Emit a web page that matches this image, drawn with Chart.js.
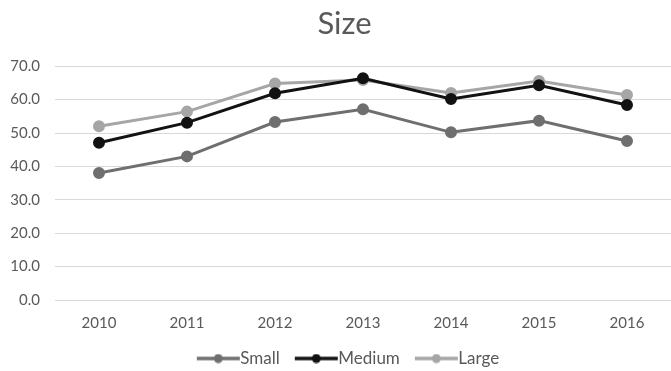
<!DOCTYPE html>
<html>
<head>
<meta charset="utf-8">
<script src="https://cdn.jsdelivr.net/npm/chart.js@4"></script>
<style>
  html, body { margin: 0; padding: 0; background: #fff; }
  #wrap { width: 671px; height: 371px; }
</style>
</head>
<body>
<div id="wrap"><canvas id="myChart" width="671" height="371"></canvas></div>
<script>
// data
const years = ["2010", "2011", "2012", "2013", "2014", "2015", "2016"];
const small = [38.0, 43.0, 53.3, 57.1, 50.2, 53.7, 47.6];
const medium = [47.1, 53.1, 61.9, 66.4, 60.2, 64.3, 58.4];
const large = [52.0, 56.4, 64.8, 65.9, 62.0, 65.6, 61.4];
const yTicks = [0, 10, 20, 30, 40, 50, 60, 70];

const textColor = "#595959";
const font = "Lato, 'Open Sans', sans-serif";

// legend marker: a short line with a dot in the middle
function legendMarker(color) {
  let c = document.createElement("canvas");
  c.width = 52; c.height = 10;
  let g = c.getContext("2d");
  g.strokeStyle = color;
  g.lineWidth = 3.5;
  g.beginPath(); g.moveTo(8, 5); g.lineTo(51, 5); g.stroke();
  g.fillStyle = color;
  g.beginPath(); g.arc(29.5, 5, 4.5, 0, Math.PI * 2); g.fill();
  return c;
}

function series(label, data, color) {
  return {
    label: label,
    data: data,
    borderColor: color,
    backgroundColor: color,
    borderWidth: 3,
    pointRadius: 4.5,
    pointHoverRadius: 4.5,
    pointBackgroundColor: color,
    pointBorderColor: color,
    tension: 0,
    fill: false
  };
}

// title and legend sit a little right of the canvas centre in the original
const nudge = {
  id: "nudge",
  beforeDraw: function(chart) {
    chart.titleBlock.left += 6; chart.titleBlock.right += 6;
    chart.legend.left += 10; chart.legend.right += 10;
  },
  afterDraw: function(chart) {
    chart.titleBlock.left -= 6; chart.titleBlock.right -= 6;
    chart.legend.left -= 10; chart.legend.right -= 10;
  }
};

let ctx = document.getElementById("myChart").getContext("2d");
new Chart(ctx, {
  type: "line",
  data: {
    labels: years,
    datasets: [
      series("Small", small, "#6f6f6f"),
      series("Medium", medium, "#121212"),
      series("Large", large, "#a6a6a6")
    ]
  },
  plugins: [nudge],
  options: {
    responsive: false,
    animation: false,
    layout: { autoPadding: false, padding: { left: 0, right: -6, top: 0, bottom: -6 } },
    plugins: {
      title: {
        display: true,
        text: "Size",
        color: textColor,
        font: { family: font, size: 31, weight: "normal" },
        padding: { top: 5, bottom: 24 }
      },
      legend: {
        position: "bottom",
        labels: {
          color: textColor,
          font: { family: font, size: 17 },
          usePointStyle: true,
          pointStyleWidth: 34,
          padding: 16,
          generateLabels: function(chart) {
            let items = Chart.defaults.plugins.legend.labels.generateLabels(chart);
            items.forEach(function(it, i) {
              it.pointStyle = legendMarker(chart.data.datasets[i].borderColor);
            });
            return items;
          }
        }
      },
      tooltip: { enabled: false }
    },
    scales: {
      x: {
        offset: true,
        grid: { display: false, drawTicks: false },
        border: { display: false },
        ticks: { color: textColor, font: { family: font, size: 15 }, padding: 14 },
        afterFit: function(axis) { axis.height = 34; }
      },
      y: {
        min: 0,
        max: 70,
        afterBuildTicks: function(axis) {
          axis.ticks = yTicks.map(function(v) { return { value: v }; });
        },
        grid: { color: "#d9d9d9", lineWidth: 1, drawTicks: false },
        border: { display: false },
        ticks: {
          color: textColor,
          font: { family: font, size: 15 },
          padding: 15,
          callback: function(v) { return Number(v).toFixed(1); }
        },
        afterFit: function(axis) { axis.width = 55; }
      }
    }
  }
});
</script>
</body>
</html>
